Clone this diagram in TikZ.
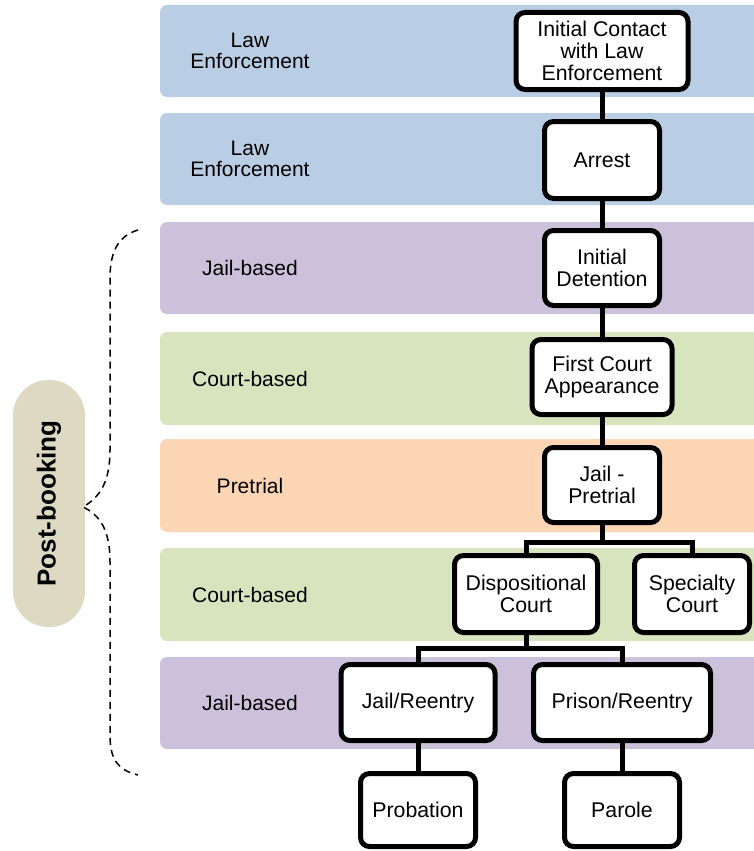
\documentclass[tikz,border=0pt]{standalone}
\usepackage{fontspec}
\setmainfont{Liberation Sans}
\begin{document}
\begin{tikzpicture}[x=1pt,y=-1pt,
  box/.style={draw=black, line width=5pt, fill=white, rounded corners=9pt,
    align=center, inner sep=0pt, font=\fontsize{21.3}{21.8}\selectfont},
  conn/.style={draw=black, line width=5pt},
  band/.style={rounded corners=7pt},
  lbl/.style={align=center, inner sep=0pt, font=\fontsize{21}{21.5}\selectfont},
  pill/.style={fill=pilltan, rounded corners=35.5pt, inner sep=0pt,
    minimum width=247pt, minimum height=72pt,
    font=\fontsize{26}{28}\selectfont\bfseries},
  bracestyle/.style={draw=black, line width=1.5pt, dash pattern=on 7pt off 5pt}
]
\definecolor{lawblue}{HTML}{B9CDE5}
\definecolor{jailpurple}{HTML}{CCC1DA}
\definecolor{courtgreen}{HTML}{D7E4BD}
\definecolor{pretrialorange}{HTML}{FCD5B5}
\definecolor{pilltan}{HTML}{DDD9C3}

\clip (0,0) rectangle (754,851);

% stage bands
\fill[band, lawblue]        (160,5)   rectangle (775,97);
\fill[band, lawblue]        (160,113) rectangle (775,205);
\fill[band, jailpurple]     (160,222) rectangle (775,314);
\fill[band, courtgreen]     (160,332) rectangle (775,425);
\fill[band, pretrialorange] (160,439) rectangle (775,532);
\fill[band, courtgreen]     (160,548) rectangle (775,641);
\fill[band, jailpurple]     (160,657) rectangle (775,749);

% band labels
\node[lbl] (l1) at (250,51)    {Law\\Enforcement};
\node[lbl] (l2) at (250,159)   {Law\\Enforcement};
\node[lbl] (l3) at (250,268)   {Jail-based};
\node[lbl] (l4) at (250,378.5) {Court-based};
\node[lbl] (l5) at (250,485.5) {Pretrial};
\node[lbl] (l6) at (250,594.5) {Court-based};
\node[lbl] (l7) at (250,703)   {Jail-based};

% post-booking marker and its brace
\node[pill, rotate=90] (post) at (49,503.5) {Post-booking};
\coordinate (btop) at (138,230);
\coordinate (btip) at (83,507);
\coordinate (bbot) at (138,775);
\draw[bracestyle] (btop) .. controls (118,236) and (110,252) .. (110,278)
  -- (110,450) .. controls (110,482) and (100,497) .. (btip)
  .. controls (100,515) and (110,530) .. (110,562)
  -- (110,735) .. controls (110,760) and (118,770) .. (bbot);

% process steps
\node[box, minimum width=172pt, minimum height=77pt] (init)   at (602,51)    {Initial Contact\\with Law\\Enforcement};
\node[box, minimum width=115pt, minimum height=77pt] (arrest) at (602,160)   {Arrest};
\node[box, minimum width=115pt, minimum height=75pt] (det)    at (602,268)   {Initial\\Detention};
\node[box, minimum width=140pt, minimum height=75pt] (fca)    at (602,377)   {First Court\\Appearance};
\node[box, minimum width=115pt, minimum height=75pt] (jp)     at (602,485)   {Jail -\\Pretrial};
\node[box, minimum width=143pt, minimum height=77pt] (disp)   at (526,594)   {Dispositional\\Court};
\node[box, minimum width=115pt, minimum height=77pt] (spec)   at (692,594)   {Specialty\\Court};
\node[box, minimum width=154pt, minimum height=76pt] (jail)   at (418,702.5) {Jail/Reentry};
\node[box, minimum width=177pt, minimum height=76pt] (prison) at (622,702.5) {Prison/Reentry};
\node[box, minimum width=115pt, minimum height=73pt] (prob)   at (418,810)   {Probation};
\node[box, minimum width=115pt, minimum height=73pt] (parole) at (622,810)   {Parole};

% connectors
\coordinate (fork1) at (602,542);
\coordinate (fork2) at (526,648);
\draw[conn] (init.south) -- (arrest.north);
\draw[conn] (arrest.south) -- (det.north);
\draw[conn] (det.south) -- (fca.north);
\draw[conn] (fca.south) -- (jp.north);
\draw[conn] (jp.south) -- (fork1);
\draw[conn] (disp.north) |- (fork1) -| (spec.north);
\draw[conn] (disp.south) -- (fork2);
\draw[conn] (jail.north) |- (fork2) -| (prison.north);
\draw[conn] (jail.south) -- (prob.north);
\draw[conn] (prison.south) -- (parole.north);
\end{tikzpicture}
\end{document}
